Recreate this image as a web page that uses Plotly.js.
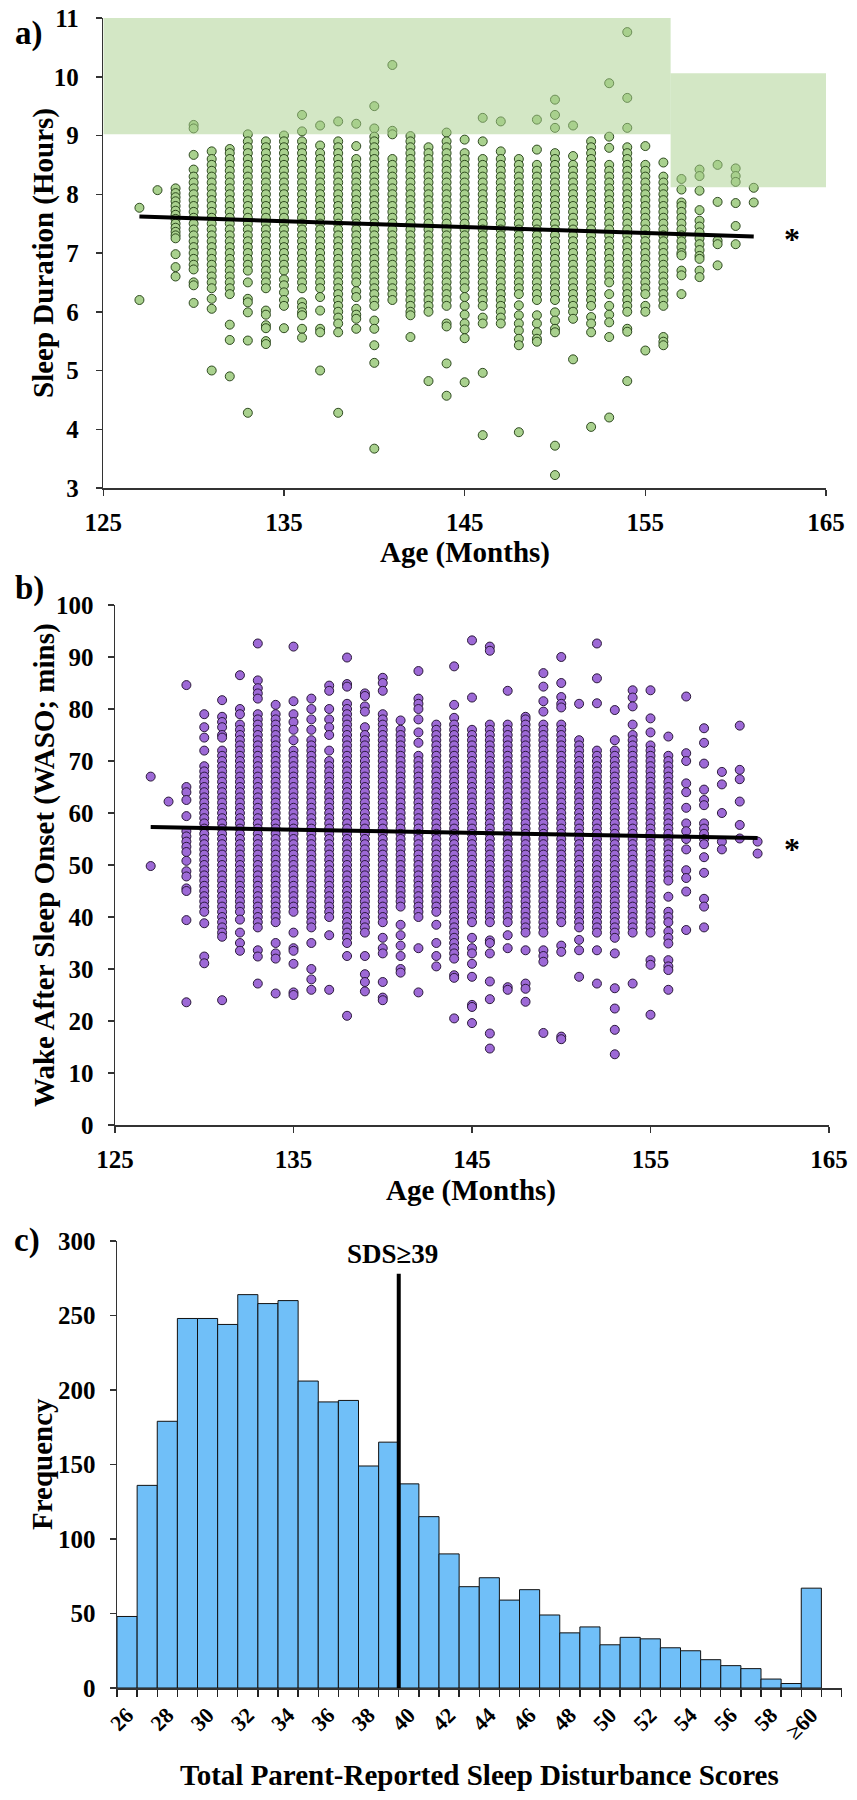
<!DOCTYPE html>
<html>
<head>
<meta charset="utf-8">
<script src="https://cdn.plot.ly/plotly-3.0.1.min.js"></script>
<style>html,body{margin:0;padding:0;background:#fff}#chart{width:857px;height:1800px}</style>
</head>
<body>
<div id="chart"></div>
<script>
// ---------- Panel a: sleep duration (hours) by age (months) ----------
const sleepAges = [127,128,129,130,131,132,133,134,135,136,137,138,139,140,141,142,143,144,145,146,147,148,149,150,151,152,153,154,155,156,157,158,159,160,161];
const sleepHours = [
[7.77,6.2],
[8.07],
[8.1,8.02,7.95,7.88,7.8,7.72,7.65,7.58,7.5,7.43,7.36,7.3,7.25,6.98,6.76,6.6],
[9.18,9.12,8.67,8.42,8.3,8.2,8.1,8,7.9,7.8,7.7,7.6,7.5,7.4,7.3,7.2,7.1,7,6.9,6.8,6.72,6.5,6.45,6.15],
[8.73,8.6,8.5,8.4,8.3,8.2,8.1,8,7.9,7.8,7.7,7.6,7.5,7.4,7.3,7.2,7.1,7,6.9,6.8,6.7,6.6,6.5,6.4,6.22,6.05,5],
[8.77,8.7,8.6,8.5,8.4,8.3,8.2,8.1,8,7.9,7.8,7.7,7.6,7.5,7.4,7.3,7.2,7.1,7,6.9,6.8,6.7,6.6,6.5,6.4,6.3,5.78,5.52,4.9],
[9.02,8.9,8.8,8.7,8.6,8.5,8.4,8.3,8.2,8.1,8,7.9,7.8,7.7,7.6,7.5,7.4,7.3,7.2,7.1,7,6.9,6.8,6.7,6.5,6.22,6.16,5.99,5.51,4.28],
[8.9,8.8,8.7,8.6,8.5,8.4,8.3,8.2,8.1,8,7.9,7.8,7.7,7.6,7.5,7.4,7.3,7.2,7.1,7,6.9,6.8,6.7,6.6,6.5,6.4,6.02,5.95,5.77,5.72,5.5,5.45],
[9,8.9,8.8,8.7,8.6,8.5,8.4,8.3,8.2,8.1,8,7.9,7.8,7.7,7.6,7.5,7.4,7.3,7.2,7.1,7,6.9,6.8,6.7,6.55,6.45,6.33,6.2,6.1,5.72],
[9.35,9.07,8.9,8.8,8.7,8.6,8.5,8.4,8.3,8.2,8.1,8,7.9,7.8,7.7,7.6,7.5,7.4,7.3,7.2,7.1,7,6.9,6.8,6.7,6.6,6.5,6.4,6.16,6.08,5.99,5.94,5.71,5.56],
[9.17,8.83,8.7,8.6,8.5,8.4,8.3,8.2,8.1,8,7.9,7.8,7.7,7.6,7.5,7.4,7.3,7.2,7.1,7,6.9,6.8,6.7,6.6,6.5,6.4,6.25,6.02,5.71,5.65,5],
[9.24,8.9,8.8,8.7,8.6,8.5,8.4,8.3,8.2,8.1,8,7.9,7.8,7.7,7.6,7.5,7.4,7.3,7.2,7.1,7,6.9,6.8,6.7,6.6,6.5,6.4,6.3,6.2,6.1,6,5.9,5.8,5.65,4.28],
[9.2,8.82,8.6,8.5,8.4,8.3,8.2,8.1,8,7.9,7.8,7.7,7.6,7.5,7.4,7.3,7.2,7.1,7,6.9,6.8,6.7,6.6,6.5,6.35,6.25,6.05,5.95,5.88,5.71],
[9.5,9.12,8.98,8.9,8.8,8.7,8.6,8.5,8.4,8.3,8.2,8.1,8,7.9,7.8,7.7,7.6,7.5,7.4,7.3,7.2,7.1,7,6.9,6.8,6.7,6.6,6.5,6.4,6.3,6.19,6.1,5.85,5.71,5.43,5.13,3.67],
[10.2,9.08,9.02,8.6,8.5,8.4,8.3,8.2,8.1,8,7.9,7.8,7.7,7.6,7.5,7.4,7.3,7.2,7.1,7,6.9,6.8,6.7,6.6,6.5,6.4,6.3,6.2],
[8.99,8.9,8.8,8.7,8.6,8.5,8.4,8.3,8.2,8.1,8,7.9,7.8,7.7,7.6,7.5,7.4,7.3,7.2,7.1,7,6.9,6.8,6.7,6.6,6.5,6.4,6.3,6.2,6.1,6,5.94,5.57],
[8.8,8.7,8.6,8.5,8.4,8.3,8.2,8.1,8,7.9,7.8,7.7,7.6,7.5,7.4,7.3,7.2,7.1,7,6.9,6.8,6.7,6.6,6.5,6.4,6.3,6.2,6.1,6,4.82],
[9.05,8.9,8.8,8.7,8.6,8.5,8.4,8.3,8.2,8.1,8,7.9,7.8,7.7,7.6,7.5,7.4,7.3,7.2,7.1,7,6.9,6.8,6.7,6.6,6.5,6.4,6.3,6.2,6.1,5.8,5.75,5.12,4.57],
[8.93,8.7,8.6,8.5,8.4,8.3,8.2,8.1,8,7.9,7.8,7.7,7.6,7.5,7.4,7.3,7.2,7.1,7,6.9,6.8,6.7,6.6,6.5,6.4,6.25,6.1,5.95,5.8,5.7,5.55,4.8],
[9.3,8.9,8.6,8.5,8.4,8.3,8.2,8.1,8,7.9,7.8,7.7,7.6,7.5,7.4,7.3,7.2,7.1,7,6.9,6.8,6.7,6.6,6.5,6.4,6.3,6.2,6.1,5.9,5.8,4.96,3.9],
[9.24,8.73,8.6,8.5,8.4,8.3,8.2,8.1,8,7.9,7.8,7.7,7.6,7.5,7.4,7.3,7.2,7.1,7,6.9,6.8,6.7,6.6,6.5,6.4,6.3,6.2,6.1,6,5.9,5.8],
[8.6,8.5,8.4,8.3,8.2,8.1,8,7.9,7.8,7.7,7.6,7.5,7.4,7.3,7.2,7.1,7,6.9,6.8,6.7,6.6,6.5,6.4,6.3,6.11,5.94,5.8,5.68,5.54,5.43,3.95],
[9.27,8.76,8.5,8.4,8.3,8.2,8.1,8,7.9,7.8,7.7,7.6,7.5,7.4,7.3,7.2,7.1,7,6.9,6.8,6.7,6.6,6.5,6.4,6.3,6.2,5.94,5.8,5.65,5.54,5.49],
[9.61,9.35,9.13,8.7,8.6,8.5,8.4,8.3,8.2,8.1,8,7.9,7.8,7.7,7.6,7.5,7.4,7.3,7.2,7.1,7,6.9,6.8,6.7,6.6,6.5,6.4,6.3,6.2,5.99,5.85,5.71,5.65,3.72,3.22],
[9.17,8.65,8.5,8.4,8.3,8.2,8.1,8,7.9,7.8,7.7,7.6,7.5,7.4,7.3,7.2,7.1,7,6.9,6.8,6.7,6.6,6.5,6.4,6.3,6.2,6.1,6,5.88,5.19],
[8.9,8.8,8.7,8.6,8.5,8.4,8.3,8.2,8.1,8,7.9,7.8,7.7,7.6,7.5,7.4,7.3,7.2,7.1,7,6.9,6.8,6.7,6.6,6.5,6.4,6.3,6.2,6.1,5.91,5.8,5.65,4.04],
[9.89,8.98,8.79,8.5,8.4,8.3,8.2,8.1,8,7.9,7.8,7.7,7.6,7.5,7.4,7.3,7.2,7.1,7,6.9,6.8,6.7,6.6,6.5,6.3,6.1,5.95,5.82,5.57,4.2],
[10.76,9.64,9.13,8.8,8.7,8.6,8.5,8.4,8.3,8.2,8.1,8,7.9,7.8,7.7,7.6,7.5,7.4,7.3,7.2,7.1,7,6.9,6.8,6.7,6.6,6.5,6.4,6.3,6.2,6.1,6,5.71,5.66,4.82],
[8.82,8.5,8.4,8.3,8.2,8.1,8,7.9,7.8,7.7,7.6,7.5,7.4,7.3,7.2,7.1,7,6.9,6.8,6.7,6.6,6.5,6.4,6.3,6.1,6,5.34],
[8.54,8.3,8.2,8.1,8,7.9,7.8,7.7,7.6,7.5,7.4,7.3,7.2,7.1,7,6.9,6.8,6.7,6.6,6.5,6.4,6.3,6.2,6.1,5.57,5.49,5.43],
[8.26,8.08,7.86,7.8,7.7,7.6,7.5,7.4,7.3,7.2,7.1,7,6.96,6.7,6.62,6.3],
[8.42,8.31,8.06,7.73,7.55,7.45,7.35,7.25,7.15,7.05,6.95,6.9,6.7,6.59],
[8.5,7.87,7.21,7.15,6.79],
[8.44,8.31,8.21,7.85,7.46,7.15],
[8.11,7.86]
];
const sleepTrendAge = [127, 161];
const sleepTrendHours = [7.62, 7.28];
// recommended-sleep bands: [age from, age to], [hours low, hours high]
const recBandAges = [[125, 156.4], [156.4, 165]];
const recBandHours = [[9.02, 11], [8.12, 10.06]];

// ---------- Panel b: WASO (mins) by age (months) ----------
const wasoAges = [127,128,129,130,131,132,133,134,135,136,137,138,139,140,141,142,143,144,145,146,147,148,149,150,151,152,153,154,155,156,157,158,159,160,161];
const wasoMins = [
[67,49.8],
[62.2],
[84.6,65,64,62.5,59.4,56.5,55.5,54.5,53.5,52.5,50.8,48.8,47.8,45.5,45,39.4,23.6],
[79,76.5,74.5,72,69,68,67,66,65,64,63,62,61,60,59,58,57,56,55,54,53,52,51,50,49,48,47,46,45,44,43,42,41,38.8,32.4,31.1],
[81.7,78.5,77.5,76.5,75,74.5,72,71,70,69,68,67,66,65,64,63,62,61,60,59,58,57,56,55,54,53,52,51,50,49,48,47,46,45,44,43,42,41,40,39,38,37,36.2,24],
[86.5,80,79,77,76,75,74,73,72,71,70,69,68,67,66,65,64,63,62,61,60,59,58,57,56,55,54,53,52,51,50,49,48,47,46,45,44,43,42,41,39.5,37,35,33.5],
[92.6,85.5,84,83,82,79,78,77,76,75,74,73,72,71,70,69,68,67,66,65,64,63,62,61,60,59,58,57,56,55,54,53,52,51,50,49,48,47,46,45,44,43,42,41,40,39,38,33.6,32.4,27.2],
[80.8,79,78,77,76,75,74,73,72,71,70,69,68,67,66,65,64,63,62,61,60,59,58,57,56,55,54,53,52,51,50,49,48,47,46,45,44,43,42,41,40,39,35,33,32,25.3],
[92,81.5,79,77.5,76,74,72,71,70,69,68,67,66,65,64,63,62,61,60,59,58,57,56,55,54,53,52,51,50,49,48,47,46,45,44,43,42,41,37,34,33.5,31,25.5,25],
[82,80,78,76,74,73,72,71,70,69,68,67,66,65,64,63,62,61,60,59,58,57,56,55,54,53,52,51,50,49,48,47,46,45,44,43,42,41,40,39,38,35,30,28,26],
[84.5,83.5,80,78,76.5,75,72,70,69,68,67,66,65,64,63,62,61,60,59,58,57,56,55,54,53,52,51,50,49,48,47,46,45,44,43,42,41,40,36.5,26],
[89.9,84.8,84.3,81,80,79,78,77,76,75,74,73,72,71,70,69,68,67,66,65,64,63,62,61,60,59,58,57,56,55,54,53,52,51,50,49,48,47,46,45,44,43,42,41,40,39,38,37,36,35,32.5,21],
[83,82.5,80.5,79.5,76.5,75,74,73,72,71,70,69,68,67,66,65,64,63,62,61,60,59,58,57,56,55,54,53,52,51,50,49,48,47,46,45,44,43,42,41,40,39,38,37,32.5,29,27.5,25.7],
[86,85,83.5,79,78,77,76,75,74,73,72,71,70,69,68,67,66,65,64,63,62,61,60,59,58,57,56,55,54,53,52,51,50,49,48,47,46,45,44,43,42,41,40,39,36,34,33,27.5,24.5,24],
[77.8,76,75,74,73,72,71,70,69,68,67,66,65,64,63,62,61,60,59,58,57,56,55,54,53,52,51,50,49,48,47,46,45,44,43,42,38.5,36.5,34.5,32.5,30,29.3],
[87.3,82,81,80,78,75.5,73.5,71,70,69,68,67,66,65,64,63,62,61,60,59,58,57,56,55,54,53,52,51,50,49,48,47,46,45,44,43,42,41,40,34,25.5],
[77,76,75,74,73,72,71,70,69,68,67,66,65,64,63,62,61,60,59,58,57,56,55,54,53,52,51,50,49,48,47,46,45,44,43,42,41,38.5,35,32.5,30.5],
[88.2,80.8,78.3,77,76,75,74,73,72,71,70,69,68,67,66,65,64,63,62,61,60,59,58,57,56,55,54,53,52,51,50,49,48,47,46,45,44,43,42,41,40,39,38,37,36,35,34,33,32,28.8,28.3,20.5],
[93.2,82.2,76,75,74,73,72,71,70,69,68,67,66,65,64,63,62,61,60,59,58,57,56,55,54,53,52,51,50,49,48,47,46,45,44,43,42,41,40,39,36,34,33,31,28.5,23.1,22.7,19.6],
[92,91.2,77,76,75,74,73,72,71,70,69,68,67,66,65,64,63,62,61,60,59,58,57,56,55,54,53,52,51,50,49,48,47,46,45,44,43,42,41,40,39,35.5,35,33,27.6,24.2,17.6,14.7],
[83.5,77,76,75,74,73,72,71,70,69,68,67,66,65,64,63,62,61,60,59,58,57,56,55,54,53,52,51,50,49,48,47,46,45,44,43,42,41,40,39,36.5,34,26.5,26],
[78.5,78,77,76,75,74,73,72,71,70,69,68,67,66,65,64,63,62,61,60,59,58,57,56,55,54,53,52,51,50,49,48,47,46,45,44,43,42,41,40,39,38,37,33.6,27.2,26.2,23.7],
[86.9,84.3,81.5,79.5,77,76,75,74,73,72,71,70,69,68,67,66,65,64,63,62,61,60,59,58,57,56,55,54,53,52,51,50,49,48,47,46,45,44,43,42,41,40,39,38,37,33.6,32.5,31.4,17.7],
[90,85,82.3,81,80.3,77,76,75,74,73,72,71,70,69,68,67,66,65,64,63,62,61,60,59,58,57,56,55,54,53,52,51,50,49,48,47,46,45,44,43,42,41,40,39,34.5,33.3,17,16.5],
[81,74,73,72,71,70,69,68,67,66,65,64,63,62,61,60,59,58,57,56,55,54,53,52,51,50,49,48,47,46,45,44,43,42,41,40,39,38,35.6,33.6,28.5],
[92.6,85.9,81.1,72,71,70,69,68,67,66,65,64,63,62,61,60,59,58,57,56,55,54,53,52,51,50,49,48,47,46,45,44,43,42,41,40,39,38,37,33.6,27.2],
[79.8,74,72,71,70,69,68,67,66,65,64,63,62,61,60,59,58,57,56,55,54,53,52,51,50,49,48,47,46,45,44,43,42,41,40,39,38,37,36,33,26.3,22.4,18.3,13.6],
[83.6,82.2,80.5,77,75,74,73,72,71,70,69,68,67,66,65,64,63,62,61,60,59,58,57,56,55,54,53,52,51,50,49,48,47,46,45,44,43,42,41,40,39,38,37,27.2],
[83.6,78.2,75.5,73,72,71,70,69,68,67,66,65,64,63,62,61,60,59,58,57,56,55,54,53,52,51,50,49,48,47,46,45,44,43,42,41,40,39,38,37,31.7,30.8,21.2],
[74.7,71,70,69,68,67,66,65,64,63,62,61,60,59,58,57,56,55,54,53,52,51,50,49,48,47,43.9,41,40,39,37.2,36,34.9,31.7,30.5,29.8,26],
[82.4,71.5,70,65.7,64,61,58,56.5,55,53,49,47.5,44.9,37.5],
[76.3,73.5,69.5,64.5,62.5,61.5,58,57,56,55,54,51.5,48.5,43.5,42,38],
[67.9,65.5,60,54.5,53],
[76.8,68.3,66.5,62.2,57.7,55.1],
[54.5,52.2]
];
const wasoTrendAge = [127, 161];
const wasoTrendMins = [57.3, 55.2];

// ---------- Panel c: histogram of total SDS ----------
const sdsLabels = ['26','27','28','29','30','31','32','33','34','35','36','37','38','39','40','41','42','43','44','45','46','47','48','49','50','51','52','53','54','55','56','57','58','59','≥60'];
const sdsCounts = [48,136,179,248,248,244,264,258,260,206,192,193,149,165,137,115,90,68,74,59,66,49,37,41,29,34,33,27,25,19,15,13,6,3,67];
const sdsCutPos = 13.5;     // between score 39 and 40 bins
const sdsCutTop = 278;
const sdsCutLabel = 'SDS≥39';

// ---------- build ----------
const W = 857, H = 1800;
const FONT = '"Liberation Serif", "Times New Roman", Times, serif';
const ax = v => v / W, ay = v => 1 - v / H;

function flatten(ages, vals) {
  const xs = [], ys = [];
  ages.forEach((a, i) => vals[i].forEach(v => { xs.push(a); ys.push(v); }));
  return [xs, ys];
}
const [ax1, ay1] = flatten(sleepAges, sleepHours);
const [ax2, ay2] = flatten(wasoAges, wasoMins);
const sdsIdx = sdsLabels.map((_, i) => i);

const traces = [
  { type: 'scatter', mode: 'markers', x: ax1, y: ay1, xaxis: 'x', yaxis: 'y',
    marker: { size: 9, color: '#A9D18E', line: { color: 'rgba(30,58,15,0.9)', width: 1 } }, hoverinfo: 'x+y' },
  { type: 'scatter', mode: 'lines', x: sleepTrendAge, y: sleepTrendHours, xaxis: 'x', yaxis: 'y',
    line: { color: '#000', width: 4 } },
  { type: 'scatter', mode: 'markers', x: ax2, y: ay2, xaxis: 'x2', yaxis: 'y2',
    marker: { size: 9, color: '#9D69D6', line: { color: 'rgba(35,18,50,0.95)', width: 1 } }, hoverinfo: 'x+y' },
  { type: 'scatter', mode: 'lines', x: wasoTrendAge, y: wasoTrendMins, xaxis: 'x2', yaxis: 'y2',
    line: { color: '#000', width: 4 } },
  { type: 'bar', x: sdsIdx, y: sdsCounts, width: 1, xaxis: 'x3', yaxis: 'y3',
    marker: { color: '#70BFF8', line: { color: '#111', width: 1 } } },
  { type: 'scatter', mode: 'lines', x: [sdsCutPos, sdsCutPos], y: [0, sdsCutTop], xaxis: 'x3', yaxis: 'y3',
    line: { color: '#000', width: 4 } }
];

const tickFont = { family: FONT, size: 25, color: '#000', weight: 'bold' };
const baseAxis = {
  showline: true, linecolor: '#333', linewidth: 1.5, showgrid: false, zeroline: false,
  ticks: 'outside', ticklen: 6, tickwidth: 1.5, tickcolor: '#333', tickfont: tickFont, fixedrange: true
};

const boundaries = [];
for (let k = 0; k <= sdsLabels.length + 1; k++) boundaries.push(k - 0.5);
const sdsTickVals = sdsIdx.filter(i => i % 2 === 0);
const sdsTickText = sdsTickVals.map(i => sdsLabels[i]);

const shapes = recBandAges.map((r, i) => ({
  type: 'rect', xref: 'x', yref: 'y', x0: r[0], x1: r[1], y0: recBandHours[i][0], y1: recBandHours[i][1],
  fillcolor: 'rgba(168,208,140,0.5)', line: { width: 0 }, layer: 'above'
}));

const titleFont = { family: FONT, size: 29, color: '#000', weight: 'bold' };
const ann = (text, x, y, opts) => Object.assign({ text, x, y, xref: 'paper', yref: 'paper', showarrow: false,
  xanchor: 'center', yanchor: 'middle', font: titleFont }, opts || {});

const annotations = [
  ann('a)', ax(29), ay(34), { font: Object.assign({}, titleFont, { size: 33 }) }),
  ann('b)', ax(29), ay(588), { font: Object.assign({}, titleFont, { size: 33 }) }),
  ann('c)', ax(27), ay(1240), { font: Object.assign({}, titleFont, { size: 33 }) }),
  ann('Sleep Duration (Hours)', ax(44), ay(253), { textangle: -90 }),
  ann('Age (Months)', ax(465), ay(552)),
  ann('Wake After Sleep Onset (WASO; mins)', ax(44), ay(865), { textangle: -90 }),
  ann('Age (Months)', ax(471), ay(1190)),
  ann('Frequency', ax(42), ay(1464), { textangle: -90 }),
  ann('Total Parent-Reported Sleep Disturbance Scores', ax(480), ay(1775)),
  { text: '*', x: 163.1, y: 7.36, xref: 'x', yref: 'y', showarrow: false, yshift: -7,
    font: Object.assign({}, titleFont, { size: 32 }) },
  { text: '*', x: 162.9, y: 54.4, xref: 'x2', yref: 'y2', showarrow: false, yshift: -7,
    font: Object.assign({}, titleFont, { size: 32 }) },
  { text: sdsCutLabel, x: 13.2, y: 291, xref: 'x3', yref: 'y3', showarrow: false,
    font: Object.assign({}, titleFont, { size: 27 }) }
];

const layout = {
  width: W, height: H, margin: { l: 0, r: 0, t: 0, b: 0 },
  paper_bgcolor: '#fff', plot_bgcolor: 'rgba(0,0,0,0)', showlegend: false, bargap: 0,
  font: { family: FONT, color: '#000' },
  xaxis: Object.assign({}, baseAxis, { domain: [ax(103.3), ax(826)], range: [125, 165], tick0: 125, dtick: 10, anchor: 'y', ticklabelstandoff: 5 }),
  yaxis: Object.assign({}, baseAxis, { domain: [ay(488), ay(18)], range: [3, 11], dtick: 1, anchor: 'x', ticklabelstandoff: 12 }),
  xaxis2: Object.assign({}, baseAxis, { domain: [ax(115), ax(829)], range: [125, 165], tick0: 125, dtick: 10, anchor: 'y2', ticklabelstandoff: 5 }),
  yaxis2: Object.assign({}, baseAxis, { domain: [ay(1125), ay(605)], range: [0, 100], dtick: 10, anchor: 'x2', ticklabelstandoff: 9 }),
  xaxis3: Object.assign({}, baseAxis, { domain: [ax(117), ax(841.5)], range: [-0.5, 35.5], anchor: 'y3',
    tickmode: 'array', tickvals: sdsTickVals, ticktext: sdsTickText, ticks: '', tickangle: -45,
    tickfont: Object.assign({}, tickFont, { size: 22 }), ticklabelstandoff: 4,
    minor: { tickmode: 'array', tickvals: boundaries, ticks: 'outside', ticklen: 7, tickwidth: 1.3, tickcolor: '#222', showgrid: false } }),
  yaxis3: Object.assign({}, baseAxis, { domain: [ay(1688), ay(1241)], range: [0, 300], dtick: 50, anchor: 'x3', ticklabelstandoff: 9 }),
  shapes, annotations
};

Plotly.newPlot('chart', traces, layout, { displayModeBar: false, staticPlot: true });
</script>
</body>
</html>
